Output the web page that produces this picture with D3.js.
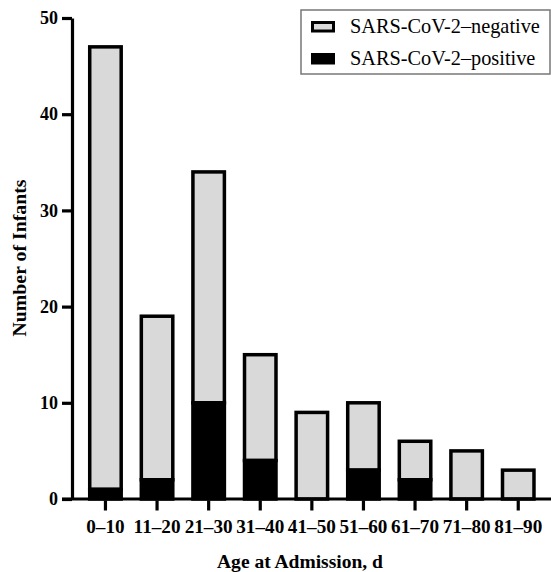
<!DOCTYPE html>
<html>
<head>
<meta charset="utf-8">
<script src="https://cdn.jsdelivr.net/npm/d3@7"></script>
<style>
  body { margin: 0; background: #fff; }
  svg text { font-family: "Liberation Serif", "Times New Roman", serif; }
</style>
</head>
<body>
<div id="chart"></div>
<script>
// Data
const categories = ["0–10", "11–20", "21–30", "31–40", "41–50", "51–60", "61–70", "71–80", "81–90"];
const positive = [1, 2, 10, 4, 0, 3, 2, 0, 0];
const negative = [46, 17, 24, 11, 9, 7, 4, 5, 3];
const yTicks = [0, 10, 20, 30, 40, 50];
const seriesNames = ["SARS-CoV-2–negative", "SARS-CoV-2–positive"];

const W = 551, H = 572;

const svg = d3.select("#chart")
  .append("svg")
    .attr("width", W)
    .attr("height", H);

// scale a text's font size so it spans roughly the width seen in the figure
function fitFont(sel, target, base) {
  sel.attr("font-size", base);
  const w = sel.node().getComputedTextLength();
  const fs = w > 0 ? base * target / w : base;
  sel.attr("font-size", Math.min(base * 1.2, fs));
  return fs;
}

const x = d3.scaleBand()
  .domain(categories)
  .range([79.4, 544.3])
  .paddingInner(0.39)
  .paddingOuter(0.2);

const y = d3.scaleLinear()
  .domain([0, 50])
  .range([499, 18]);

// stacked rows: positive at the bottom, negative on top
const rows = categories.map((c, i) => ({ cat: c, pos: positive[i], neg: negative[i] }));
const stack = d3.stack().keys(["pos", "neg"])(rows);

const fills = { pos: "#000", neg: "#d9d9d9" };

svg.append("g")
  .selectAll("g")
  .data(stack.slice().reverse())
  .join("g")
    .attr("fill", d => fills[d.key])
  .selectAll("rect")
  .data(d => d.filter(s => s[1] > s[0]))
  .join("rect")
    .attr("x", d => x(d.data.cat))
    .attr("y", d => y(d[1]))
    .attr("width", x.bandwidth())
    .attr("height", d => y(d[0]) - y(d[1]))
    .attr("stroke", "#000")
    .attr("stroke-width", 3.5);

// y axis
const yAxis = svg.append("g")
  .attr("transform", "translate(72,0)")
  .call(d3.axisLeft(y).tickValues(yTicks).tickSize(10).tickPadding(4).tickSizeOuter(0));
yAxis.attr("font-family", null);
yAxis.select(".domain").attr("stroke-width", 3.2);
yAxis.selectAll(".tick line").attr("stroke-width", 3.2);
const yLabels = yAxis.selectAll(".tick text")
  .attr("font-weight", "bold")
  .attr("fill", "#000");
const yfs = fitFont(yAxis.select(".tick:nth-child(3) text"), 18, 18); // "10"
yLabels.attr("font-size", yfs);

// x axis line runs from the 0 tick to the right edge
svg.append("line")
  .attr("x1", 62).attr("x2", W)
  .attr("y1", y(0)).attr("y2", y(0))
  .attr("stroke", "#000")
  .attr("stroke-width", 3.2);

const xAxis = svg.append("g")
  .attr("transform", `translate(0,${y(0) + 1.5})`)
  .call(d3.axisBottom(x).tickSize(10).tickPadding(9).tickSizeOuter(0));
xAxis.attr("font-family", null);
xAxis.select(".domain").remove();
xAxis.selectAll(".tick line").attr("stroke-width", 3.2);
const xLabels = xAxis.selectAll(".tick text")
  .attr("font-weight", "bold")
  .attr("fill", "#000");
const xfs = fitFont(xAxis.select(".tick:nth-child(4) text"), 48, 18); // "21–30"
xLabels.attr("font-size", xfs);

// axis titles
const xTitle = svg.append("text")
  .attr("x", 300)
  .attr("y", 568)
  .attr("text-anchor", "middle")
  .attr("font-weight", "bold")
  .text("Age at Admission, d");
fitFont(xTitle, 166, 19);

const yTitle = svg.append("text")
  .attr("transform", "translate(26,258) rotate(-90)")
  .attr("text-anchor", "middle")
  .attr("font-weight", "bold")
  .text("Number of Infants");
fitFont(yTitle, 157, 19);

// legend
const legend = svg.append("g");
legend.append("rect")
  .attr("x", 301).attr("y", 10)
  .attr("width", 249).attr("height", 64)
  .attr("fill", "#fff")
  .attr("stroke", "#777")
  .attr("stroke-width", 1.5);

const legendItems = [
  { name: seriesNames[0], fill: fills.neg },
  { name: seriesNames[1], fill: fills.pos }
];
const li = legend.selectAll(".item")
  .data(legendItems)
  .join("g")
    .attr("class", "item")
    .attr("transform", (d, i) => `translate(0,${i * 32})`);
li.append("rect")
  .attr("x", 312.5).attr("y", 22.5)
  .attr("width", 21).attr("height", 8.5)
  .attr("fill", d => d.fill)
  .attr("stroke", "#000")
  .attr("stroke-width", 3);
const legTexts = li.append("text")
  .attr("x", 350).attr("y", 33)
  .attr("fill", "#000")
  .text(d => d.name);
const lfs = fitFont(d3.select(legTexts.nodes()[0]), 190, 20);
legTexts.attr("font-size", Math.min(24, lfs));
</script>
</body>
</html>
